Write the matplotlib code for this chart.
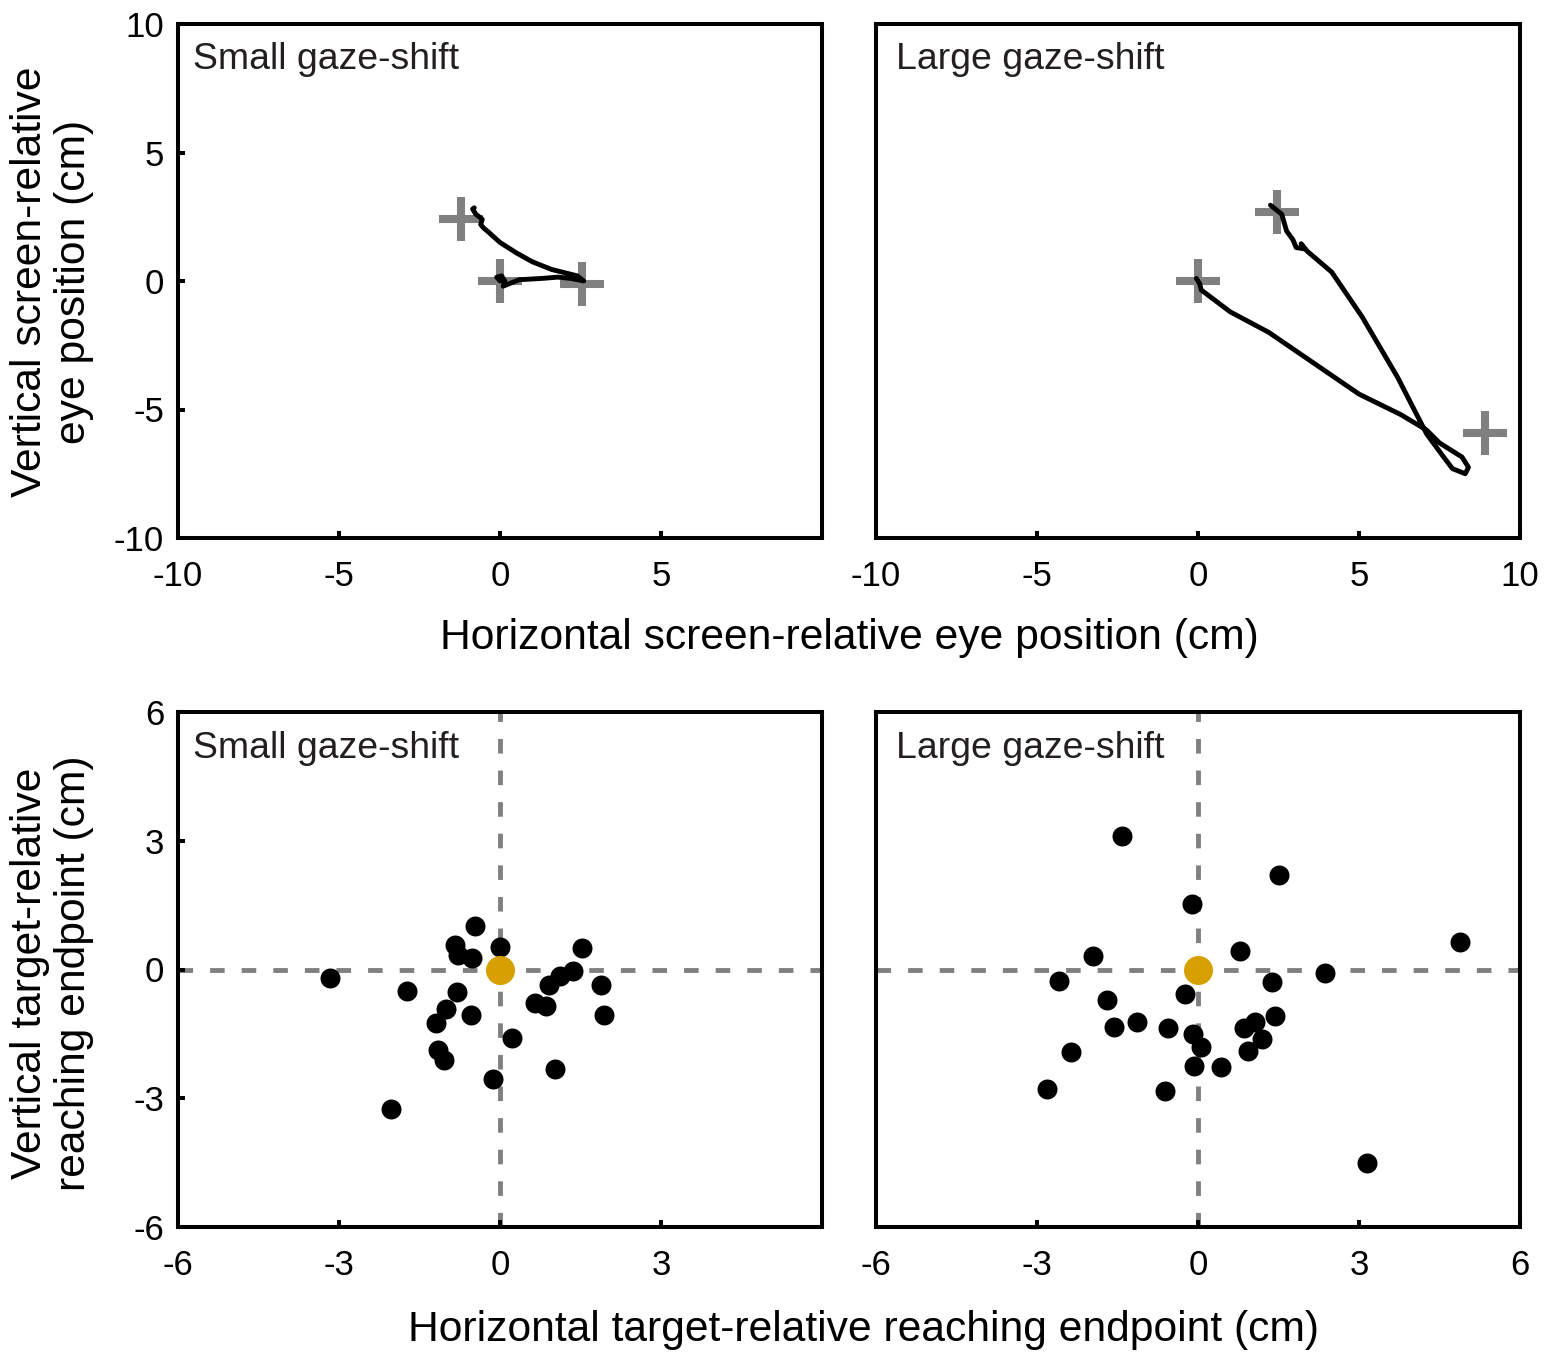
import numpy as np
import matplotlib
matplotlib.use('Agg')
import matplotlib.pyplot as plt

plt.rcParams['font.family'] = ['Liberation Sans', 'DejaVu Sans']

# top row: eye traces (cm), screen-relative
small_trace_x = [0.0, -0.1, 0.05, 0.15, 0.1, 0.6, 1.3, 1.8, 2.2, 2.6, 2.4, 1.6, 1.0, 0.5, 0.0, -0.4, -0.5, -0.6, -0.55, -0.75, -0.85, -0.8]
small_trace_y = [0.0, 0.15, 0.2, 0.0, -0.2, 0.05, 0.1, 0.15, 0.1, 0.0, 0.2, 0.45, 0.75, 1.1, 1.5, 1.95, 2.05, 2.2, 2.4, 2.6, 2.8, 2.85]
small_targets_x = [-1.2, 0.0, 2.55]
small_targets_y = [2.4, 0.0, -0.1]

large_trace_x = [-0.05, 0.05, 0.1, 1.0, 2.2, 3.6, 5.0, 6.3, 7.1, 7.5, 8.2, 8.4, 8.3, 8.1, 7.9, 7.6, 7.1, 6.2, 5.1, 4.15, 3.4, 3.2, 3.3, 3.05, 2.95, 2.75, 2.6, 2.4, 2.25]
large_trace_y = [0.1, -0.1, -0.35, -1.2, -2.0, -3.2, -4.4, -5.2, -5.8, -6.3, -6.85, -7.25, -7.5, -7.4, -7.3, -6.8, -5.95, -3.75, -1.4, 0.35, 1.15, 1.45, 1.25, 1.3, 1.6, 1.95, 2.6, 2.8, 2.95]
large_targets_x = [0.0, 2.45, 8.9]
large_targets_y = [0.0, 2.7, -5.9]

# bottom row: reaching endpoints (cm), target-relative
small_end_x = [-3.17, -1.74, -0.46, -0.84, -0.79, -0.53, 0.0, -0.80, -1.0, -1.2, -0.54, -1.15, -1.04,
               -0.13, 0.22, -2.03, 0.66, 0.85, 0.92, 1.11, 1.36, 1.53, 1.88, 1.94, 1.03]
small_end_y = [-0.19, -0.49, 1.01, 0.56, 0.33, 0.27, 0.52, -0.52, -0.92, -1.25, -1.07, -1.87, -2.11,
               -2.55, -1.60, -3.26, -0.79, -0.86, -0.37, -0.15, -0.03, 0.50, -0.36, -1.05, -2.31]
large_end_x = [-1.41, 1.51, -0.12, 4.89, -1.95, 0.79, -2.59, 2.37, 1.37, -0.25, -1.69, -1.13, -1.57, -0.56,
               -0.09, 0.06, 1.43, 1.06, 0.86, 1.20, 0.93, -2.37, -2.81, -0.62, -0.07, 0.43, 3.14]
large_end_y = [3.12, 2.20, 1.52, 0.64, 0.32, 0.44, -0.26, -0.07, -0.30, -0.57, -0.70, -1.23, -1.33, -1.37,
               -1.51, -1.80, -1.08, -1.23, -1.37, -1.63, -1.90, -1.92, -2.78, -2.84, -2.26, -2.28, -4.50]

panel_names = ['Small gaze-shift', 'Large gaze-shift']
top_ticks = [-10, -5, 0, 5, 10]
bottom_ticks = [-6, -3, 0, 3, 6]

W, H = 1548, 1354
fig = plt.figure(figsize=(W / 100, H / 100), dpi=100)

lefts = [178 / W, 876 / W]
width = 644 / W
ax_tl = fig.add_axes([lefts[0], 1 - 538 / H, width, 514 / H])
ax_tr = fig.add_axes([lefts[1], 1 - 538 / H, width, 514 / H])
ax_bl = fig.add_axes([lefts[0], 1 - 1227 / H, width, 515 / H])
ax_br = fig.add_axes([lefts[1], 1 - 1227 / H, width, 515 / H])

txt_col = '#231f20'

def style(ax, lim, ticks, is_left):
    ax.set_xlim(lim)
    ax.set_ylim(lim)
    ax.set_xticks(ticks)
    # left panels leave out the last x label (it would clash with the right panel)
    xl = [str(t) for t in ticks]
    if is_left:
        xl[-1] = ''
    ax.set_xticklabels(xl)
    if is_left:
        ax.set_yticks(ticks)
        ax.set_yticklabels([str(t) for t in ticks])
    else:
        ax.set_yticks([])
    for s in ax.spines.values():
        s.set_linewidth(2.9)
    ax.tick_params(direction='in', length=5, width=2.9, labelsize=25, pad=16)
    ax.tick_params(axis='y', pad=10)

# top row
ax_tl.plot(small_trace_x, small_trace_y, color='black', lw=3.5, solid_joinstyle='round', solid_capstyle='round')
ax_tl.plot(small_targets_x, small_targets_y, '+', color='#808080', ms=31, mew=5.8, zorder=1)
ax_tr.plot(large_trace_x, large_trace_y, color='black', lw=3.5, solid_joinstyle='round', solid_capstyle='round')
ax_tr.plot(large_targets_x, large_targets_y, '+', color='#808080', ms=31, mew=5.8, zorder=1)

style(ax_tl, (-10, 10), top_ticks, True)
style(ax_tr, (-10, 10), top_ticks, False)

# bottom row
for ax, xs, ys in [(ax_bl, small_end_x, small_end_y), (ax_br, large_end_x, large_end_y)]:
    ax.axhline(0, color='#808080', lw=3.5, dashes=(3, 3.5), zorder=1)
    ax.axvline(0, color='#808080', lw=3.5, dashes=(3, 3.5), zorder=1)
    ax.scatter(xs, ys, s=207, color='black', linewidths=0, zorder=3)
    ax.scatter([0], [0], s=437, color='#d6a000', linewidths=0, zorder=4)

style(ax_bl, (-6, 6), bottom_ticks, True)
style(ax_br, (-6, 6), bottom_ticks, False)

for ax, name, x0 in [(ax_tl, panel_names[0], 0.023), (ax_tr, panel_names[1], 0.031),
                     (ax_bl, panel_names[0], 0.023), (ax_br, panel_names[1], 0.031)]:
    ax.text(x0, 0.93, name, transform=ax.transAxes, fontsize=26.9, color=txt_col, ha='left', va='center')

fig.text(849 / W, 1 - 638 / H, 'Horizontal screen-relative eye position (cm)', fontsize=30.7, ha='center', va='center')
fig.text(864 / W, 1 - 1330 / H, 'Horizontal target-relative reaching endpoint (cm)', fontsize=30.7, ha='center', va='center')
fig.text(52 / W, 1 - 282 / H, 'Vertical screen-relative\neye position (cm)', fontsize=30.7, rotation=90,
         ha='center', va='center', multialignment='center', linespacing=1.1)
fig.text(52 / W, 1 - 973 / H, 'Vertical target-relative\nreaching endpoint (cm)', fontsize=30.7, rotation=90,
         ha='center', va='center', multialignment='center', linespacing=1.1)

fig.savefig('out.png', dpi=100)
